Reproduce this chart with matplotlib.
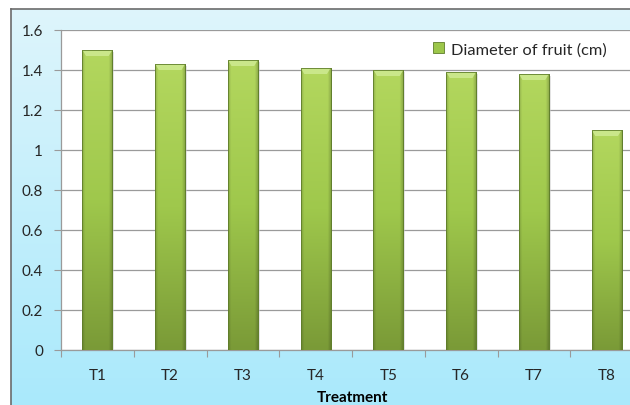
import numpy as np
import matplotlib
matplotlib.use("Agg")
import matplotlib.pyplot as plt
from matplotlib.colors import to_rgb

plt.rcParams['font.family'] = ['Lato', 'DejaVu Sans']

categories = ["T1", "T2", "T3", "T4", "T5", "T6", "T7", "T8"]
diameter = [1.50, 1.43, 1.45, 1.41, 1.40, 1.39, 1.38, 1.10]
series_name = "Diameter of fruit (cm)"
y_ticks = [0, 0.2, 0.4, 0.6, 0.8, 1.0, 1.2, 1.4, 1.6]
y_tick_labels = ["0", "0.2", "0.4", "0.6", "0.8", "1", "1.2", "1.4", "1.6"]

W, H = 630, 406
fig = plt.figure(figsize=(W / 100, H / 100), dpi=100)
fig.patch.set_facecolor("white")

# chart area with light-cyan vertical gradient and a dark frame
bg = fig.add_axes([11 / W, -0.1, 1.0, (H - 10) / H + 0.1], zorder=0)
top_c = np.array(to_rgb("#def5fb"))
bot_c = np.array(to_rgb("#a4e8fc"))
t = np.linspace(0, 1, 256)[:, None]
grad = top_c * (1 - t)[..., None] + bot_c * t[..., None]
grad = np.repeat(grad, 2, axis=1)
bg.imshow(grad, aspect="auto", extent=[0, 1, 0, 1], interpolation="bilinear")
bg.set_xlim(0, 1)
bg.set_ylim(0, 1)
bg.set_xticks([])
bg.set_yticks([])
for s in bg.spines.values():
    s.set_color("#6b6b6b")
    s.set_linewidth(1.2)

# plot area
ax = fig.add_axes([61 / W, (H - 351) / H, 582 / W, 320 / H], zorder=1)
ax.set_facecolor("white")
x = np.arange(len(categories))
bars = ax.bar(x, diameter, width=0.41, color="#9cc64a", edgecolor="#5f7d2b",
              linewidth=0.6, zorder=3)

# shaded fill for each bar: light green at top, olive at the base, darker sides
ny, nx = 200, 60
vy = np.linspace(0, 1, ny)[:, None]
vx = np.linspace(-1, 1, nx)[None, :]
c_top = np.array(to_rgb("#b3d75e"))
c_mid = np.array(to_rgb("#9fc84c"))
c_bot = np.array(to_rgb("#7a9a37"))
vert = np.where(vy[..., None] < 0.5,
                c_top * (1 - vy[..., None] * 2) + c_mid * (vy[..., None] * 2),
                c_mid * (1 - (vy[..., None] - 0.5) * 2) + c_bot * ((vy[..., None] - 0.5) * 2))
side = 1 - 0.18 * np.clip((np.abs(vx) - 0.8) / 0.2, 0, 1)
img = np.clip(vert * side[..., None], 0, 1)
for b in bars:
    x0, y0 = b.get_x(), b.get_y()
    w, h = b.get_width(), b.get_height()
    im = ax.imshow(img, extent=[x0, x0 + w, y0, y0 + h], aspect="auto",
                   interpolation="bilinear", zorder=3.5)
    im.set_clip_path(b)
    # bevel highlight along the top edge
    ax.fill([x0, x0 + w, x0 + w * 0.88, x0 + w * 0.12],
            [y0 + h, y0 + h, y0 + h - 0.03, y0 + h - 0.03],
            color="#cdea90", alpha=0.9, lw=0, zorder=3.6)
    ax.plot([x0, x0 + w, x0 + w, x0, x0], [y0, y0, y0 + h, y0 + h, y0],
            color="#5f7d2b", lw=0.6, zorder=3.7)
    # soft shadow on the right
    ax.fill_between([x0 + w, x0 + w + 0.025], 0, y0 + h - 0.01,
                    color="#c8c8c8", alpha=0.5, lw=0, zorder=2.9)

ax.set_xlim(-0.5, len(categories) - 0.5)
ax.set_ylim(0, 1.6)
ax.set_yticks(y_ticks)
ax.set_yticklabels(y_tick_labels)
ax.yaxis.grid(True, color="#9a9a9a", linewidth=0.9, zorder=1)
ax.set_axisbelow(True)

ax.set_xticks(np.arange(len(categories) + 1) - 0.5)
ax.set_xticklabels([])
ax.set_xticks(x, minor=True)
ax.set_xticklabels(categories, minor=True)
ax.tick_params(axis="x", which="major", length=5, color="#9a9a9a", direction="out")
ax.tick_params(axis="x", which="minor", length=0, pad=13, labelsize=11, labelcolor="#262626")
ax.tick_params(axis="y", length=5, color="#9a9a9a", pad=8, labelsize=11, labelcolor="#262626")

for side_name in ("top", "right"):
    ax.spines[side_name].set_visible(False)
for side_name in ("left", "bottom"):
    ax.spines[side_name].set_color("#9a9a9a")
    ax.spines[side_name].set_linewidth(0.9)

ax.set_xlabel("Treatment", fontsize=11, fontweight="bold", labelpad=6, color="black")

leg = ax.legend([bars], [series_name], loc="upper left",
                bbox_to_anchor=((433 - 61) / 582, (351 - 43) / 320),
                frameon=False, fontsize=11.8, handlelength=0.65, handleheight=0.65,
                handletextpad=0.45, borderaxespad=0, borderpad=0)
for t_ in leg.get_texts():
    t_.set_color("#262626")

fig.savefig("out.png", dpi=100)
